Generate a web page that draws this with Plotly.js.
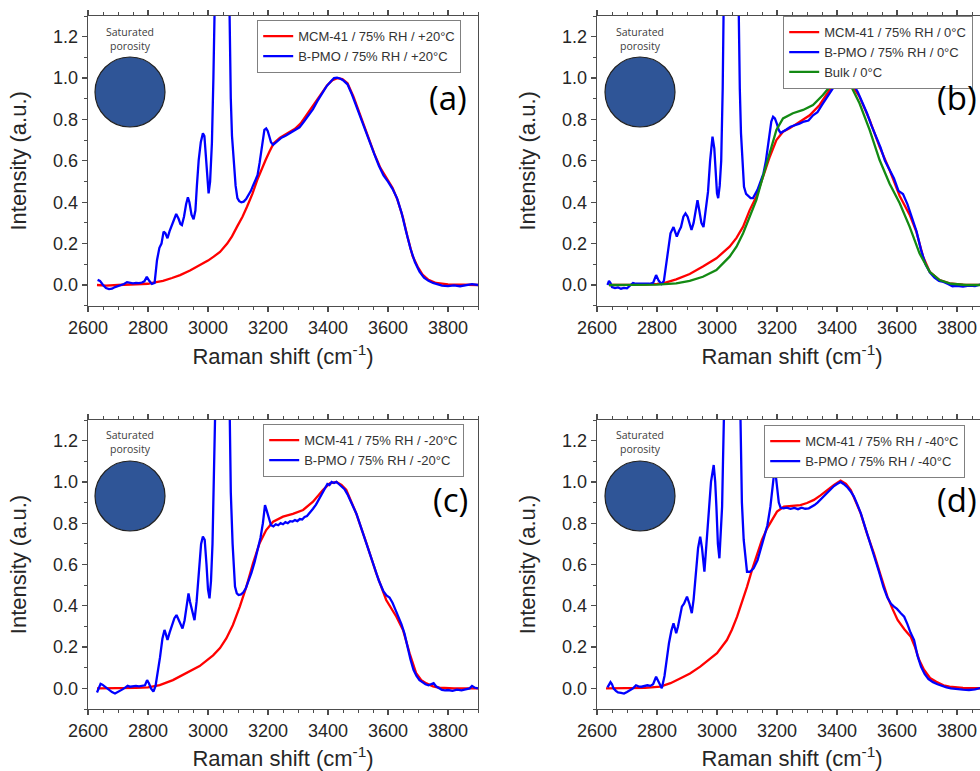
<!DOCTYPE html>
<html>
<head>
<meta charset="utf-8">
<script src="https://cdn.plot.ly/plotly-3.0.1.min.js"></script>
<style>
html,body{margin:0;padding:0;overflow:hidden;background:#fff;width:980px;height:771px;}
#chart{width:1000px;height:771px;}
</style>
</head>
<body>
<div id="chart"></div>
<script>
// ---------- Panel (a) : +20°C ----------
const a_mcm_x = [2630,2660,2700,2750,2800,2818,2850,2880,2907,2940,2974,3000,3019,3040,3064,3080,3097,3115,3130,3148,3164,3180,3192,3205,3219,3240,3264,3290,3309,3330,3353,3375,3398,3415,3431,3448,3465,3485,3509,3530,3554,3575,3598,3615,3632,3650,3665,3682,3699,3715,3735,3760,3800,3850,3900];
const a_mcm_y = [0.0,-0.003,0.0,0.002,0.006,0.011,0.02,0.034,0.048,0.07,0.097,0.118,0.137,0.16,0.2,0.235,0.282,0.33,0.378,0.44,0.507,0.565,0.604,0.645,0.685,0.712,0.733,0.755,0.781,0.825,0.878,0.925,0.967,0.99,1.0,0.995,0.975,0.91,0.813,0.725,0.636,0.565,0.507,0.47,0.41,0.325,0.233,0.14,0.088,0.05,0.025,0.01,0.003,0.0,0.0];
const a_pmo_x = [2632,2640,2650,2660,2670,2680,2690,2700,2710,2720,2730,2740,2750,2760,2770,2780,2788,2796,2804,2813,2822,2830,2838,2845,2852,2858,2865,2872,2880,2887,2894,2902,2908,2913,2920,2927,2933,2938,2945,2952,2958,2963,2969,2976,2983,2988,2993,2998,3002,3007,3013,3018,3022,3028,3035,3045,3055,3062,3068,3072,3076,3080,3086,3092,3098,3104,3111,3119,3127,3135,3143,3150,3158,3165,3172,3178,3183,3188,3194,3199,3204,3210,3217,3225,3235,3245,3260,3275,3290,3305,3320,3335,3350,3365,3380,3395,3410,3420,3430,3440,3450,3465,3480,3495,3510,3525,3540,3555,3570,3585,3600,3615,3630,3645,3660,3675,3690,3705,3720,3735,3750,3765,3780,3800,3820,3840,3860,3880,3900];
const a_pmo_y = [0.025,0.02,0.0,-0.015,-0.02,-0.018,-0.01,-0.005,0.0,0.005,0.014,0.01,0.008,0.01,0.009,0.012,0.018,0.04,0.02,0.005,0.01,0.12,0.18,0.2,0.258,0.25,0.226,0.26,0.29,0.31,0.343,0.32,0.295,0.29,0.33,0.39,0.424,0.4,0.34,0.318,0.36,0.48,0.604,0.69,0.733,0.72,0.62,0.5,0.443,0.5,0.685,1.0,1.45,2.2,2.9,3.2,3.0,2.3,1.6,1.2,0.9,0.72,0.6,0.48,0.42,0.405,0.4,0.403,0.415,0.435,0.455,0.48,0.51,0.53,0.59,0.66,0.71,0.75,0.757,0.745,0.72,0.69,0.677,0.688,0.7,0.712,0.722,0.735,0.75,0.762,0.79,0.82,0.85,0.89,0.925,0.96,0.985,1.0,1.002,0.998,0.99,0.97,0.92,0.86,0.81,0.75,0.69,0.63,0.575,0.53,0.5,0.465,0.42,0.35,0.26,0.175,0.11,0.065,0.035,0.02,0.01,0.005,-0.003,-0.005,-0.002,-0.006,0.0,0.004,0.0];

// ---------- Panel (b) : 0°C ----------
const b_mcm_x = [2640,2700,2760,2800,2820,2864,2909,2953,2998,3042,3065,3087,3109,3131,3153,3176,3198,3220,3242,3275,3309,3342,3375,3409,3425,3442,3475,3509,3542,3575,3609,3642,3664,3687,3709,3742,3775,3820,3900];
const b_mcm_y = [0.0,0.0,0.002,0.005,0.008,0.027,0.053,0.089,0.129,0.185,0.228,0.282,0.362,0.427,0.524,0.62,0.7,0.741,0.757,0.789,0.82,0.87,0.942,0.99,1.0,0.983,0.91,0.797,0.668,0.556,0.43,0.34,0.26,0.137,0.064,0.024,0.008,0.002,0.0];
const b_pmo_x = [2635,2640,2645,2650,2660,2670,2680,2690,2700,2710,2720,2730,2745,2760,2775,2787,2797,2806,2815,2823,2830,2838,2845,2855,2862,2866,2873,2880,2888,2895,2902,2909,2915,2922,2929,2935,2941,2948,2955,2962,2970,2977,2985,2991,2996,3000,3004,3009,3014,3019,3023,3030,3040,3050,3060,3066,3072,3076,3080,3085,3090,3097,3105,3112,3120,3128,3135,3145,3155,3163,3170,3175,3181,3187,3193,3200,3206,3212,3220,3230,3245,3260,3275,3290,3305,3320,3335,3350,3365,3380,3395,3410,3425,3440,3455,3470,3485,3500,3515,3530,3545,3560,3575,3590,3605,3620,3635,3650,3665,3680,3695,3710,3725,3740,3755,3770,3785,3800,3820,3840,3860,3880,3900];
const b_pmo_y = [0.0,0.02,0.01,-0.01,-0.015,-0.012,-0.018,-0.014,-0.016,-0.005,0.01,0.006,0.005,0.004,0.006,0.01,0.048,0.02,0.005,0.02,0.1,0.18,0.25,0.28,0.25,0.234,0.26,0.28,0.33,0.346,0.33,0.29,0.266,0.3,0.37,0.41,0.36,0.3,0.28,0.35,0.45,0.6,0.717,0.66,0.52,0.443,0.42,0.48,0.6,0.95,1.45,2.3,3.0,3.2,2.7,2.0,1.3,0.95,0.733,0.58,0.475,0.44,0.427,0.42,0.42,0.44,0.46,0.5,0.54,0.6,0.68,0.733,0.79,0.813,0.805,0.777,0.748,0.735,0.74,0.75,0.765,0.772,0.78,0.79,0.795,0.82,0.835,0.87,0.905,0.94,0.97,0.99,1.005,0.995,0.97,0.93,0.88,0.83,0.77,0.72,0.665,0.6,0.56,0.515,0.455,0.44,0.39,0.33,0.26,0.17,0.1,0.06,0.035,0.02,0.015,0.005,-0.006,-0.004,-0.008,-0.003,-0.005,0.003,0.0];
const b_bulk_x = [2640,2700,2800,2864,2909,2953,2998,3042,3065,3087,3109,3131,3153,3176,3198,3220,3253,3287,3320,3353,3386,3414,3442,3475,3509,3542,3575,3609,3642,3675,3709,3742,3780,3830,3900];
const b_bulk_y = [0.0,0.0,0.002,0.008,0.02,0.04,0.072,0.137,0.185,0.25,0.33,0.41,0.524,0.644,0.749,0.805,0.83,0.846,0.87,0.918,0.975,1.0,0.975,0.878,0.749,0.604,0.491,0.395,0.282,0.153,0.064,0.024,0.006,0.0,0.0];

// ---------- Panel (c) : -20°C ----------
const c_mcm_x = [2630,2700,2760,2800,2839,2883,2928,2972,3017,3040,3061,3083,3106,3128,3150,3172,3194,3217,3250,3283,3317,3350,3383,3406,3428,3445,3461,3494,3528,3561,3594,3611,3628,3650,3672,3694,3711,3728,3750,3772,3820,3900];
const c_mcm_y = [0.0,0.0,0.002,0.005,0.016,0.04,0.073,0.108,0.16,0.195,0.242,0.307,0.396,0.493,0.606,0.703,0.767,0.807,0.832,0.845,0.864,0.904,0.961,0.993,1.0,0.985,0.961,0.848,0.703,0.557,0.428,0.385,0.347,0.283,0.17,0.073,0.04,0.024,0.01,0.003,0.0,0.0];
const c_pmo_x = [2630,2636,2642,2648,2655,2662,2670,2680,2690,2697,2705,2715,2725,2732,2740,2750,2760,2770,2780,2790,2797,2803,2810,2818,2825,2832,2840,2848,2855,2860,2865,2872,2880,2888,2895,2903,2910,2915,2922,2929,2935,2940,2945,2950,2955,2962,2970,2977,2983,2989,2995,3000,3005,3010,3015,3019,3023,3030,3040,3050,3060,3066,3071,3076,3082,3090,3096,3102,3110,3118,3126,3135,3145,3155,3165,3175,3183,3190,3196,3203,3210,3218,3226,3234,3242,3250,3258,3266,3274,3282,3290,3298,3306,3314,3322,3330,3340,3350,3360,3370,3380,3390,3398,3405,3412,3420,3428,3436,3445,3455,3465,3480,3495,3510,3525,3540,3555,3570,3585,3595,3605,3615,3625,3635,3645,3655,3665,3675,3685,3695,3705,3715,3725,3735,3745,3752,3760,3770,3780,3790,3800,3815,3830,3845,3860,3872,3880,3888,3900];
const c_pmo_y = [-0.02,0.0,0.022,0.018,0.01,0.0,-0.01,-0.018,-0.025,-0.02,-0.012,-0.005,0.005,0.012,0.008,0.01,0.012,0.01,0.013,0.015,0.04,0.025,0.0,-0.016,0.01,0.07,0.15,0.24,0.283,0.26,0.234,0.27,0.31,0.34,0.355,0.33,0.3,0.29,0.33,0.41,0.46,0.42,0.39,0.35,0.33,0.42,0.57,0.7,0.735,0.72,0.6,0.48,0.436,0.52,0.7,1.0,1.45,2.3,3.0,3.2,2.7,2.0,1.35,0.95,0.7,0.493,0.46,0.452,0.455,0.465,0.485,0.52,0.56,0.61,0.67,0.73,0.8,0.888,0.86,0.82,0.79,0.785,0.795,0.79,0.8,0.795,0.805,0.8,0.81,0.808,0.815,0.81,0.82,0.818,0.83,0.835,0.85,0.87,0.89,0.915,0.94,0.965,0.99,0.985,1.0,0.995,1.0,0.99,0.98,0.965,0.94,0.895,0.845,0.78,0.715,0.645,0.58,0.52,0.47,0.45,0.44,0.415,0.38,0.345,0.31,0.265,0.2,0.14,0.09,0.06,0.04,0.03,0.02,0.015,0.02,0.025,0.01,0.0,-0.008,-0.01,-0.008,-0.012,-0.006,-0.01,-0.004,0.0,0.012,0.004,0.0];

// ---------- Panel (d) : -40°C ----------
const d_mcm_x = [2630,2700,2760,2811,2845,2877,2910,2944,2975,3000,3033,3050,3067,3084,3100,3117,3134,3150,3167,3184,3200,3223,3250,3278,3300,3323,3345,3367,3390,3412,3430,3446,3462,3479,3500,3523,3545,3568,3585,3602,3625,3646,3660,3674,3690,3710,3731,3755,3775,3820,3900];
const d_mcm_y = [0.0,0.0,0.002,0.008,0.025,0.048,0.072,0.105,0.14,0.17,0.234,0.285,0.347,0.42,0.492,0.575,0.654,0.72,0.775,0.82,0.856,0.88,0.885,0.888,0.898,0.913,0.935,0.961,0.985,1.006,0.99,0.961,0.91,0.848,0.75,0.654,0.55,0.444,0.385,0.331,0.285,0.25,0.2,0.137,0.09,0.05,0.032,0.015,0.008,0.002,0.0];
const d_pmo_x = [2635,2640,2645,2650,2655,2663,2670,2680,2690,2700,2710,2720,2730,2738,2748,2758,2768,2778,2787,2797,2806,2816,2825,2833,2840,2848,2855,2860,2864,2870,2877,2883,2890,2900,2908,2916,2922,2931,2937,2944,2950,2958,2964,2972,2980,2989,2994,2998,3003,3008,3013,3017,3020,3024,3030,3040,3050,3060,3068,3074,3078,3083,3089,3095,3100,3110,3122,3135,3145,3156,3168,3178,3185,3191,3196,3201,3206,3212,3222,3232,3245,3258,3270,3282,3294,3306,3316,3325,3335,3345,3356,3367,3378,3390,3400,3412,3422,3434,3445,3456,3468,3480,3495,3510,3525,3540,3555,3568,3580,3590,3600,3612,3624,3635,3645,3657,3668,3680,3692,3705,3720,3735,3750,3765,3780,3800,3820,3840,3860,3880,3900];
const d_pmo_y = [0.005,0.02,0.03,0.02,0.0,-0.012,-0.02,-0.022,-0.025,-0.018,-0.01,0.0,0.015,0.01,0.008,0.012,0.015,0.012,0.02,0.056,0.03,0.0,0.06,0.153,0.22,0.28,0.315,0.29,0.267,0.3,0.36,0.396,0.41,0.444,0.41,0.364,0.43,0.589,0.68,0.735,0.68,0.565,0.68,0.88,1.0,1.082,1.0,0.88,0.7,0.63,0.75,0.88,1.1,1.5,2.3,3.0,3.2,2.9,2.2,1.6,1.2,0.9,0.719,0.62,0.565,0.565,0.581,0.62,0.67,0.719,0.79,0.88,0.98,1.05,1.03,0.96,0.9,0.875,0.872,0.875,0.87,0.874,0.868,0.875,0.87,0.872,0.88,0.888,0.9,0.915,0.93,0.945,0.965,0.98,0.99,1.0,0.99,0.975,0.955,0.93,0.89,0.845,0.775,0.7,0.635,0.565,0.49,0.44,0.41,0.396,0.385,0.365,0.347,0.31,0.27,0.234,0.16,0.105,0.07,0.045,0.03,0.02,0.012,0.005,0.0,-0.004,-0.006,-0.008,-0.005,0.002,0.0];

// ---------- labels ----------
const xTitle = 'Raman shift (cm<sup>-1</sup>)';
const yTitle = 'Intensity (a.u.)';
const panelLabels = ['(a)','(b)','(c)','(d)'];
const insetText = 'Saturated<br>porosity';
const namesA = ['MCM-41 / 75% RH / +20°C','B-PMO / 75% RH / +20°C'];
const namesB = ['MCM-41 / 75% RH / 0°C','B-PMO / 75% RH / 0°C','Bulk / 0°C'];
const namesC = ['MCM-41 / 75% RH / -20°C','B-PMO / 75% RH / -20°C'];
const namesD = ['MCM-41 / 75% RH / -40°C','B-PMO / 75% RH / -40°C'];

const RED = '#ff0000', BLUE = '#0000ff', GREEN = '#138a13';
const W = 1000, H = 771;

function tr(x, y, name, color, ax, leg){
  return {x:x, y:y, name:name, type:'scatter', mode:'lines',
    line:{color:color, width:2.3}, xaxis:'x'+ax, yaxis:'y'+ax, legend:leg, hoverinfo:'skip'};
}
const data = [
  tr(a_mcm_x,a_mcm_y,namesA[0],RED,'','legend'),
  tr(a_pmo_x,a_pmo_y,namesA[1],BLUE,'','legend'),
  tr(b_mcm_x,b_mcm_y,namesB[0],RED,'2','legend2'),
  tr(b_pmo_x,b_pmo_y,namesB[1],BLUE,'2','legend2'),
  tr(b_bulk_x,b_bulk_y,namesB[2],GREEN,'2','legend2'),
  tr(c_mcm_x,c_mcm_y,namesC[0],RED,'3','legend3'),
  tr(c_pmo_x,c_pmo_y,namesC[1],BLUE,'3','legend3'),
  tr(d_mcm_x,d_mcm_y,namesD[0],RED,'4','legend4'),
  tr(d_pmo_x,d_pmo_y,namesD[1],BLUE,'4','legend4')
];

const AX = '#4d4d4d';
const tickFont = {family:'Liberation Sans, Arial, sans-serif', size:18, color:'#262626'};
const titleFont = {family:'Liberation Sans, Arial, sans-serif', size:22, color:'#262626'};
function xa(dom, anchor){
  return {domain:dom, anchor:anchor, range:[2600,3900], dtick:200, tick0:2600,
    showline:true, linecolor:AX, linewidth:1.3, mirror:'ticks', ticks:'outside', ticklen:5, tickwidth:1.2, tickcolor:AX,
    minor:{dtick:50, ticks:'outside', ticklen:3, tickcolor:AX, tickwidth:1},
    showgrid:false, zeroline:false, tickfont:tickFont,
    title:{text:xTitle, font:titleFont, standoff:12}};
}
function ya(dom, anchor){
  return {domain:dom, anchor:anchor, range:[-0.1,1.3], dtick:0.2, tick0:0, tickformat:'.1f',
    showline:true, linecolor:AX, linewidth:1.3, mirror:true, ticks:'outside', ticklen:5, tickwidth:1.2, tickcolor:AX,
    minor:{dtick:0.1, ticks:'outside', ticklen:3, tickcolor:AX, tickwidth:1},
    showgrid:false, zeroline:false, tickfont:tickFont,
    title:{text:yTitle, font:titleFont, standoff:20}};
}
const xL = [88/W, 478/W], xR = [597/W, 987/W];
const yT = [1-305.7/H, 1-16/H], yB = [1-709/H, 1-420/H];

function leg(left, top){
  return {x:left/W, y:1-top/H, xanchor:'left', yanchor:'top', bgcolor:'#ffffff',
    bordercolor:'#808080', borderwidth:1.2,
    font:{family:'Liberation Sans, Arial, sans-serif', size:13, color:'#333333'},
    tracegroupgap:0, itemwidth:30};
}

const annotations = [];
const shapes = [];
const panels = [
  {cx:130, cy:92, lx:448, ly:97, ty:38.5},
  {cx:640, cy:92, lx:957, ly:97, ty:38.5},
  {cx:130, cy:496, lx:450, ly:499, ty:442},
  {cx:640, cy:496, lx:957, ly:499, ty:442}
];
panels.forEach((p,i)=>{
  annotations.push({xref:'paper', yref:'paper', x:p.lx/W, y:1-p.ly/H, text:panelLabels[i], showarrow:false,
    xanchor:'center', yanchor:'middle', font:{family:'Open Sans, sans-serif', size:33, color:'#000'}});
  annotations.push({xref:'paper', yref:'paper', x:p.cx/W, y:1-p.ty/H, text:insetText, showarrow:false,
    xanchor:'center', yanchor:'middle', font:{family:'Open Sans, sans-serif', size:10.5, color:'#404040'}});
  shapes.push({type:'circle', xref:'paper', yref:'paper', x0:(p.cx-35)/W, x1:(p.cx+35)/W, y0:1-(p.cy+35)/H, y1:1-(p.cy-35)/H,
    fillcolor:'#2f5597', line:{color:'#222222', width:1.2}});
});

const layout = {
  width:W, height:H, margin:{l:0,r:0,t:0,b:0}, paper_bgcolor:'#ffffff', plot_bgcolor:'#ffffff',
  showlegend:true,
  xaxis:xa(xL,'y'), yaxis:ya(yT,'x'),
  xaxis2:xa(xR,'y2'), yaxis2:ya(yT,'x2'),
  xaxis3:xa(xL,'y3'), yaxis3:ya(yB,'x3'),
  xaxis4:xa(xR,'y4'), yaxis4:ya(yB,'x4'),
  legend:leg(257,20), legend2:leg(783,16), legend3:leg(263,424), legend4:leg(764,425),
  annotations:annotations, shapes:shapes
};
Plotly.newPlot('chart', data, layout, {staticPlot:true, displayModeBar:false});
</script>
</body>
</html>
